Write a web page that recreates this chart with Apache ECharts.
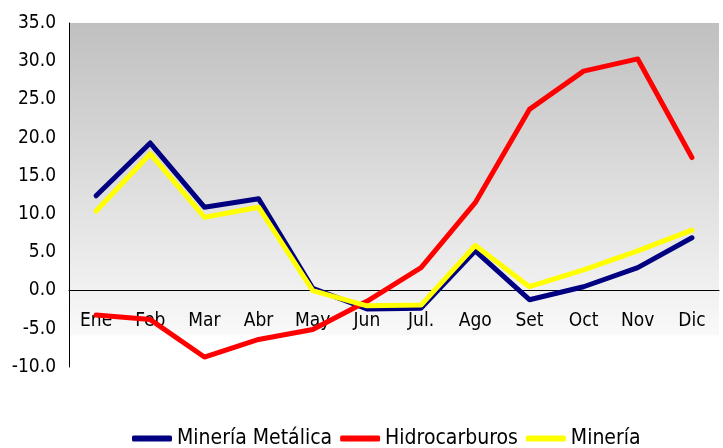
<!DOCTYPE html>
<html>
<head>
<meta charset="utf-8">
<script src="https://cdn.jsdelivr.net/npm/echarts@6/dist/echarts.min.js"></script>
<style>
html,body{margin:0;padding:0;background:#fff;}
#chart{width:723px;height:448px;}
</style>
</head>
<body>
<div id="chart"></div>
<script>
var categories = ['Ene','Feb','Mar','Abr','May','Jun','Jul.','Ago','Set','Oct','Nov','Dic'];
var mineriaMetalica = [12.4, 19.3, 10.9, 12.0, 0.3, -2.4, -2.3, 5.2, -1.2, 0.5, 3.0, 6.9];
var hidrocarburos = [-3.2, -3.8, -8.7, -6.4, -5.1, -1.4, 3.0, 11.5, 23.7, 28.7, 30.3, 17.4];
var mineria = [10.4, 17.9, 9.6, 10.9, 0.0, -2.0, -1.9, 5.9, 0.5, 2.7, 5.2, 7.9];
var seriesNames = ['Minería Metálica', 'Hidrocarburos', 'Minería'];
var yMin = -10, yMax = 35, yStep = 5;
var shadeBottom = -5.85;

var FONT = 'DejaVu Sans Condensed';
var chart = echarts.init(document.getElementById('chart'), null, {renderer:'canvas'});
var colors = ['#000080', '#FF0000', '#FFFF00'];
var datas = [mineriaMetalica, hidrocarburos, mineria];

var series = seriesNames.map(function(n, i){
  var s = {
    name: n,
    type: 'line',
    data: datas[i],
    symbol: 'none',
    z: 3 + i,
    lineStyle: {color: colors[i], width: 5, cap: 'round', join: 'round'},
    itemStyle: {color: colors[i]},
    emphasis: {disabled: true},
    animation: false
  };
  if (i === 0) {
    s.markArea = {
      silent: true,
      z: 0,
      itemStyle: {
        color: {type:'linear', x:0, y:0, x2:0, y2:1, colorStops:[
          {offset:0, color:'#C0C0C0'},
          {offset:1, color:'#F9F9F9'}
        ]}
      },
      data: [[{yAxis: yMax}, {yAxis: shadeBottom}]]
    };
  }
  return s;
});

chart.setOption({
  animation: false,
  backgroundColor: '#ffffff',
  grid: {left: 69, right: 4, top: 23, bottom: 81, containLabel: false},
  legend: {
    top: 423,
    left: 127,
    itemWidth: 40,
    itemHeight: 6,
    itemGap: 8,
    icon: 'roundRect',
    textStyle: {fontFamily: FONT, fontSize: 21, color: '#000'},
    data: seriesNames
  },
  xAxis: {
    type: 'category',
    data: categories,
    boundaryGap: true,
    axisLine: {onZero: true, lineStyle: {color: '#000', width: 1}},
    axisTick: {show: false},
    axisLabel: {fontFamily: FONT, fontSize: 19, color: '#000', margin: -55},
    splitLine: {show: false}
  },
  yAxis: {
    type: 'value',
    min: yMin, max: yMax, interval: yStep,
    axisLine: {show: true, lineStyle: {color: '#000', width: 1}},
    axisTick: {show: false},
    splitLine: {show: false},
    axisLabel: {fontFamily: FONT, fontSize: 19, color: '#000', margin: 13,
      padding: [4, 0, 0, 0],
      formatter: function(v){ return v.toFixed(1); }}
  },
  series: series
});
</script>
</body>
</html>
